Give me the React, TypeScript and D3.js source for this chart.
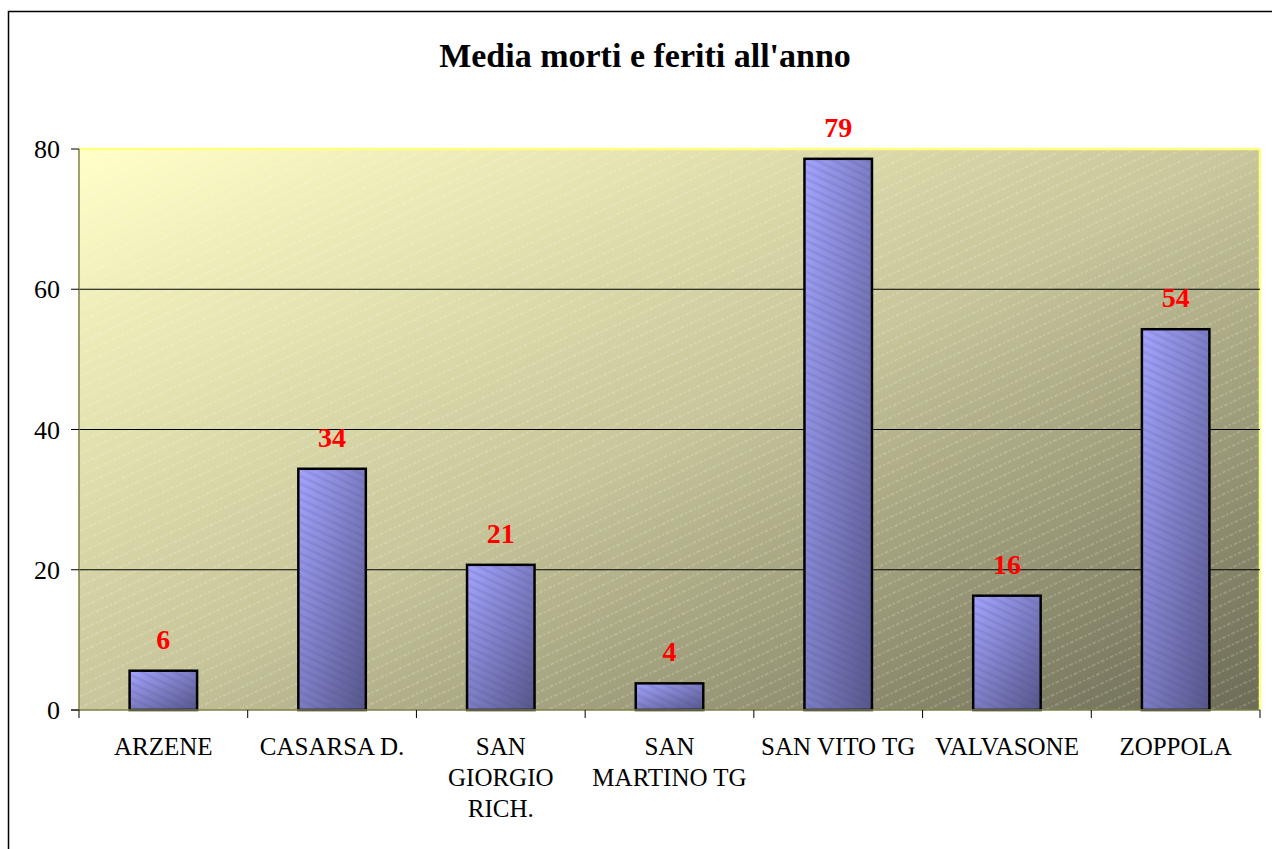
import React from "react";
import * as d3 from "d3";

const title = "Media morti e feriti all'anno";
const categories = ["ARZENE", "CASARSA D.", "SAN GIORGIO RICH.", "SAN MARTINO TG", "SAN VITO TG", "VALVASONE", "ZOPPOLA"];
const categoryLines = [["ARZENE"], ["CASARSA D."], ["SAN", "GIORGIO", "RICH."], ["SAN", "MARTINO TG"], ["SAN VITO TG"], ["VALVASONE"], ["ZOPPOLA"]];
const values = [5.6, 34.4, 20.7, 3.8, 78.6, 16.3, 54.3];
const yTicks = [0, 20, 40, 60, 80];

const W = 1272;
const H = 849;
const FONT = "'Liberation Serif', 'Times New Roman', serif";

export default function App() {
  const left = 79, right = 1260, top = 149, bottom = 710;
  const x = d3.scaleBand<string>().domain(categories).range([left, right]).paddingInner(0.6).paddingOuter(0.3);
  const xOuter = d3.scaleBand<string>().domain(categories).range([left, right]);
  const y = d3.scaleLinear().domain([0, 80]).range([bottom, top]);
  const fmt = d3.format(".0f");

  return (
    <svg width={W} height={H} style={{ position: "absolute", left: 0, top: 0, background: "#fff" }}>
      <defs>
        <linearGradient id="bg" x1="0" y1="0" x2="1" y2="1">
          <stop offset="0" stopColor="#ffffc8" />
          <stop offset="0.5" stopColor="#c8c69a" />
          <stop offset="1" stopColor="#6c6b55" />
        </linearGradient>
        <pattern id="bgStripe" width="10" height="10" patternUnits="userSpaceOnUse" patternTransform="rotate(-25)">
          <line x1="0" y1="5" x2="10" y2="5" stroke="#ffffff" strokeOpacity="0.35" strokeWidth="1" strokeDasharray="2 2" />
        </pattern>
        <linearGradient id="bar" x1="0" y1="0" x2="1" y2="1">
          <stop offset="0" stopColor="#a4a4ff" />
          <stop offset="1" stopColor="#56568a" />
        </linearGradient>
        <pattern id="barStripe" width="7" height="7" patternUnits="userSpaceOnUse" patternTransform="rotate(25)">
          <line x1="0" y1="3.5" x2="7" y2="3.5" stroke="#404080" strokeOpacity="0.15" strokeWidth="2.5" />
        </pattern>
      </defs>

      {/* outer frame */}
      <rect x={8.5} y={11.5} width={W + 20} height={H + 20} fill="#fff" stroke="#000" strokeWidth={1.5} />

      <text x={645} y={67} textAnchor="middle" fontFamily={FONT} fontWeight="bold" fontSize={34} fill="#000">
        {title}
      </text>

      {/* plot background */}
      <rect x={left} y={top} width={right - left} height={bottom - top} fill="url(#bg)" />
      <rect x={left} y={top} width={right - left} height={bottom - top} fill="url(#bgStripe)" />
      <line x1={left} y1={top} x2={right} y2={top} stroke="#ffff80" strokeWidth={2.5} />
      <line x1={right} y1={top} x2={right} y2={bottom} stroke="#ffff80" strokeWidth={2.5} />

      {/* grid lines */}
      {yTicks.filter((t) => t > 0 && t < 80).map((t) => (
        <line key={t} x1={left} x2={right} y1={y(t)} y2={y(t)} stroke="#000" strokeWidth={1} />
      ))}

      {/* bars */}
      {categories.map((c, i) => (
        <g key={c}>
          <rect x={x(c)!} y={y(values[i])} width={x.bandwidth()} height={bottom - y(values[i])} fill="url(#bar)" stroke="#000" strokeWidth={2.5} />
          <rect x={x(c)!} y={y(values[i])} width={x.bandwidth()} height={bottom - y(values[i])} fill="url(#barStripe)" />
        </g>
      ))}

      {/* axes */}
      <line x1={left} y1={top} x2={left} y2={bottom} stroke="#808048" strokeWidth={1.5} />
      <line x1={left - 8} y1={bottom} x2={right} y2={bottom} stroke="#808048" strokeWidth={1.5} />
      {yTicks.map((t) => (
        <g key={t}>
          <line x1={left - 8} x2={left} y1={y(t)} y2={y(t)} stroke="#000" strokeWidth={1} />
          <text x={60} y={y(t) + 9} textAnchor="end" fontFamily={FONT} fontSize={26} fill="#000">
            {t}
          </text>
        </g>
      ))}
      {[...categories.map((c) => xOuter(c)!), right].map((px, i) => (
        <line key={i} x1={px} x2={px} y1={bottom} y2={bottom + 8} stroke="#000" strokeWidth={1} />
      ))}

      {/* category labels */}
      {categories.map((c, i) => (
        <text key={c} x={xOuter(c)! + xOuter.bandwidth() / 2} y={755} textAnchor="middle" fontFamily={FONT} fontSize={25} fill="#000">
          {categoryLines[i].map((ln, j) => (
            <tspan key={j} x={xOuter(c)! + xOuter.bandwidth() / 2} y={755 + j * 31}>
              {ln}
            </tspan>
          ))}
        </text>
      ))}

      {/* data labels */}
      {categories.map((c, i) => (
        <text key={c} x={x(c)! + x.bandwidth() / 2} y={y(values[i]) - 22} textAnchor="middle" fontFamily={FONT} fontWeight="bold" fontSize={28} fill="#ff0000">
          {fmt(values[i])}
        </text>
      ))}
    </svg>
  );
}
